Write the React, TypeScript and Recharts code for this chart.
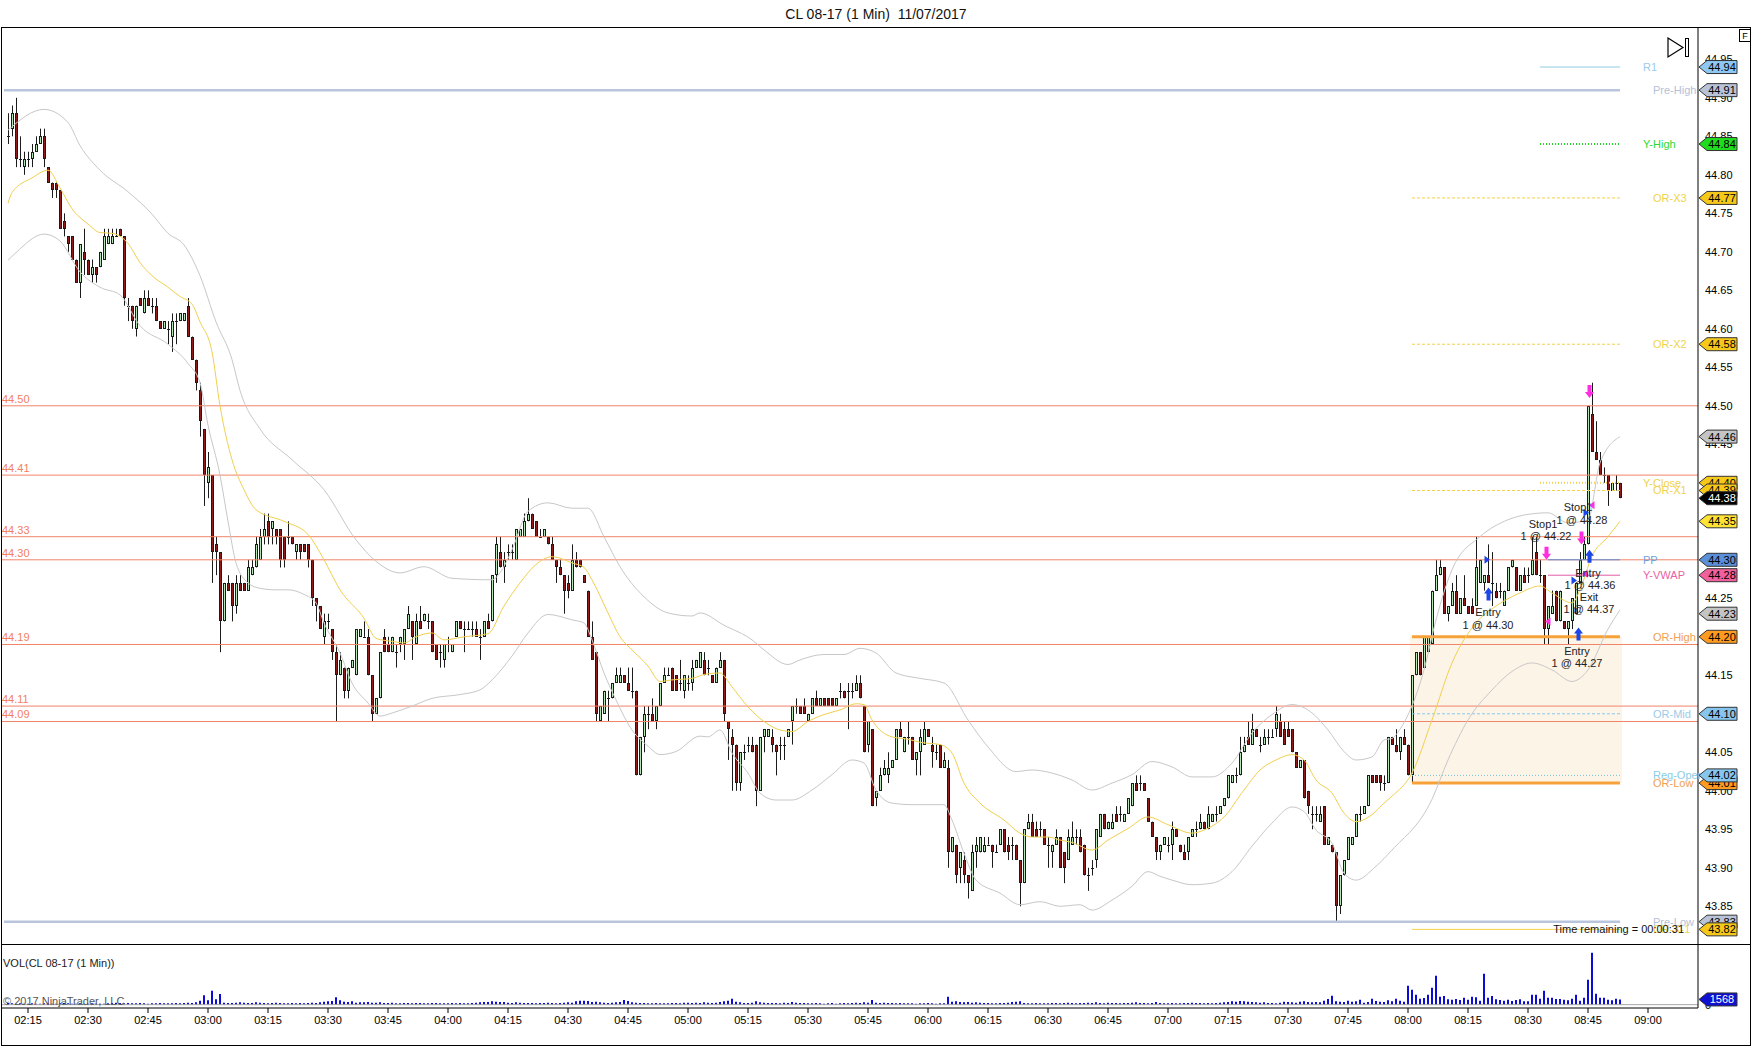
import React from "react";
import {
  ComposedChart, Bar, Line, XAxis, YAxis,
  ReferenceLine, ReferenceArea, ReferenceDot,
} from "recharts";

const FONT = '"Liberation Sans", Arial, Helvetica, sans-serif';

// category slots of the time axis (one per minute) and the first traded bar
const SLOT_FROM = "02:09";
const SLOT_TO = "09:12";
const FIRST_BAR = "02:10";

// CL 08-17, 1 min bars 02:10 .. 08:53
const OPEN = [
  44.85,44.86,44.88,44.82,44.81,44.82,44.82,44.83,44.84,44.85,
  44.81,44.79,44.79,44.78,44.74,44.72,44.72,44.69,44.66,44.70,
  44.69,44.67,44.68,44.68,44.69,44.71,44.71,44.72,44.73,44.72,
  44.63,44.63,44.60,44.64,44.62,44.64,44.63,44.63,44.61,44.60,
  44.60,44.59,44.61,44.61,44.61,44.63,44.59,44.56,44.52,44.47,
  44.40,44.41,44.32,44.31,44.22,44.27,44.27,44.24,44.27,44.27,
  44.26,44.28,44.29,44.30,44.33,44.35,44.34,44.34,44.34,44.33,
  44.33,44.33,44.31,44.32,44.32,44.32,44.30,44.25,44.24,44.20,
  44.22,44.21,44.18,44.15,44.16,44.13,44.16,44.15,44.20,44.20,
  44.20,44.15,44.10,44.12,44.20,44.19,44.18,44.18,44.19,44.19,
  44.21,44.22,44.19,44.22,44.22,44.22,44.22,44.19,44.18,44.17,
  44.19,44.18,44.20,44.22,44.21,44.21,44.21,44.21,44.20,44.20,
  44.22,44.22,44.28,44.31,44.29,44.31,44.31,44.30,44.33,44.33,
  44.35,44.36,44.35,44.33,44.33,44.33,44.32,44.30,44.29,44.28,
  44.27,44.26,44.30,44.30,44.28,44.26,44.20,44.18,44.09,44.10,
  44.12,44.12,44.14,44.14,44.15,44.14,44.13,44.13,44.02,44.07,
  44.10,44.10,44.09,44.11,44.14,44.15,44.16,44.15,44.14,44.13,
  44.14,44.14,44.16,44.16,44.17,44.16,44.15,44.14,44.16,44.17,
  44.09,44.07,44.06,44.01,44.05,44.06,44.06,44.06,44.00,44.07,
  44.07,44.07,44.06,44.06,44.06,44.07,44.09,44.11,44.11,44.11,
  44.09,44.10,44.12,44.11,44.12,44.12,44.12,44.11,44.13,44.13,
  44.13,44.13,44.13,44.14,44.11,44.06,44.08,43.99,44.00,44.02,
  44.02,44.03,44.04,44.08,44.05,44.07,44.07,44.04,44.05,44.06,
  44.08,44.06,44.05,44.06,44.03,44.03,43.92,43.93,43.90,43.91,
  43.89,43.87,43.92,43.92,43.92,43.93,43.93,43.92,43.93,43.95,
  43.93,43.93,43.93,43.91,43.88,43.95,43.96,43.95,43.95,43.95,
  43.93,43.92,43.93,43.94,43.92,43.91,43.93,43.94,43.94,43.93,
  43.89,43.90,43.91,43.94,43.97,43.95,43.95,43.97,43.97,43.96,
  43.97,43.98,44.01,44.01,44.01,43.99,43.96,43.94,43.92,43.93,
  43.93,43.93,43.95,43.93,43.92,43.92,43.94,43.95,43.95,43.96,
  43.95,43.96,43.97,43.97,43.98,43.99,44.01,44.02,44.02,44.05,
  44.07,44.06,44.08,44.06,44.06,44.07,44.07,44.08,44.09,44.08,
  44.08,44.08,44.05,44.03,44.04,44.00,43.97,43.97,43.96,43.98,
  43.93,43.93,43.92,43.85,43.89,43.91,43.93,43.94,43.97,43.97,
  43.98,44.02,44.02,44.02,44.01,44.01,44.07,44.06,44.05,44.07,
  44.06,44.02,44.15,44.18,44.16,44.18,44.19,44.26,44.28,44.29,
  44.23,44.24,44.26,44.23,44.25,44.24,44.24,44.24,44.27,44.27,
  44.28,44.27,44.26,44.26,44.24,44.26,44.29,44.29,44.26,44.28,
  44.28,44.28,44.31,44.28,44.28,44.21,44.23,44.26,44.22,44.22,
  44.21,44.22,44.23,44.27,44.30,44.32,44.49,44.44,44.43,44.41,
  44.41,44.39,44.40,44.40,
];
const HIGH = [
  44.88,44.89,44.90,44.85,44.83,44.83,44.84,44.85,44.86,44.86,
  44.81,44.79,44.79,44.78,44.75,44.72,44.72,44.69,44.71,44.73,
  44.69,44.69,44.68,44.70,44.73,44.73,44.73,44.73,44.73,44.72,
  44.64,44.63,44.63,44.64,44.65,44.65,44.64,44.64,44.61,44.61,
  44.61,44.62,44.62,44.62,44.62,44.64,44.59,44.56,44.53,44.47,
  44.44,44.41,44.33,44.31,44.27,44.28,44.27,44.28,44.28,44.27,
  44.30,44.30,44.33,44.34,44.36,44.36,44.35,44.34,44.34,44.33,
  44.35,44.33,44.32,44.32,44.32,44.32,44.30,44.25,44.24,44.23,
  44.23,44.21,44.19,44.18,44.16,44.16,44.17,44.21,44.21,44.22,
  44.21,44.15,44.12,44.18,44.21,44.20,44.20,44.19,44.20,44.21,
  44.24,44.22,44.23,44.24,44.23,44.23,44.22,44.19,44.19,44.19,
  44.20,44.19,44.22,44.22,44.22,44.22,44.22,44.22,44.21,44.22,
  44.23,44.28,44.33,44.33,44.31,44.32,44.32,44.34,44.34,44.36,
  44.38,44.36,44.35,44.34,44.34,44.33,44.33,44.30,44.30,44.28,
  44.28,44.32,44.31,44.30,44.28,44.26,44.22,44.18,44.11,44.13,
  44.13,44.14,44.16,44.16,44.15,44.16,44.16,44.13,44.07,44.11,
  44.11,44.12,44.11,44.14,44.16,44.16,44.16,44.15,44.17,44.15,
  44.15,44.17,44.17,44.18,44.18,44.17,44.15,44.16,44.18,44.17,
  44.09,44.08,44.06,44.05,44.06,44.07,44.07,44.06,44.07,44.08,
  44.08,44.08,44.06,44.07,44.07,44.08,44.11,44.12,44.11,44.12,
  44.10,44.12,44.13,44.12,44.12,44.12,44.12,44.12,44.14,44.13,
  44.14,44.14,44.15,44.15,44.11,44.09,44.08,44.00,44.03,44.04,
  44.05,44.04,44.08,44.09,44.07,44.09,44.07,44.05,44.08,44.09,
  44.08,44.07,44.06,44.06,44.05,44.04,43.94,43.93,43.92,43.92,
  43.89,43.93,43.94,43.94,43.94,43.94,43.93,43.93,43.95,43.95,
  43.94,43.94,43.93,43.91,43.95,43.97,43.97,43.96,43.96,43.95,
  43.94,43.93,43.95,43.94,43.92,43.95,43.96,43.95,43.95,43.93,
  43.90,43.91,43.95,43.97,43.97,43.96,43.97,43.98,43.98,43.97,
  43.99,44.01,44.02,44.02,44.01,43.99,43.96,43.94,43.93,43.94,
  43.94,43.96,43.95,43.93,43.93,43.94,43.95,43.96,43.97,43.96,
  43.98,43.97,43.98,43.98,43.99,44.02,44.02,44.03,44.07,44.07,
  44.09,44.10,44.08,44.07,44.08,44.08,44.08,44.11,44.10,44.09,
  44.09,44.08,44.05,44.04,44.04,44.00,43.98,43.98,43.98,43.98,
  43.94,43.93,43.92,43.89,43.91,43.94,43.94,43.97,43.98,43.98,
  44.02,44.02,44.02,44.02,44.02,44.07,44.07,44.08,44.07,44.08,
  44.06,44.15,44.18,44.18,44.20,44.20,44.26,44.30,44.30,44.29,
  44.24,44.27,44.28,44.25,44.28,44.24,44.25,44.33,44.30,44.28,
  44.32,44.31,44.27,44.27,44.26,44.29,44.30,44.29,44.28,44.29,
  44.29,44.33,44.33,44.30,44.28,44.24,44.26,44.26,44.26,44.22,
  44.22,44.25,44.27,44.31,44.33,44.50,44.53,44.48,44.44,44.42,
  44.41,44.40,44.41,44.40,
];
const LOW = [
  44.84,44.85,44.81,44.81,44.80,44.81,44.81,44.83,44.84,44.81,
  44.79,44.77,44.77,44.73,44.72,44.70,44.69,44.66,44.64,44.67,
  44.67,44.66,44.66,44.68,44.69,44.71,44.71,44.72,44.72,44.63,
  44.61,44.60,44.59,44.63,44.62,44.63,44.62,44.61,44.60,44.60,
  44.58,44.57,44.58,44.61,44.61,44.59,44.56,44.52,44.46,44.37,
  44.38,44.27,44.28,44.18,44.22,44.26,44.22,44.23,44.26,44.26,
  44.26,44.28,44.29,44.30,44.32,44.32,44.32,44.32,44.29,44.29,
  44.32,44.32,44.30,44.30,44.31,44.29,44.24,44.22,44.21,44.19,
  44.21,44.17,44.09,44.15,44.12,44.12,44.16,44.15,44.20,44.20,
  44.15,44.09,44.10,44.12,44.18,44.18,44.18,44.16,44.18,44.17,
  44.21,44.17,44.19,44.21,44.22,44.21,44.18,44.17,44.16,44.16,
  44.18,44.18,44.20,44.21,44.18,44.21,44.20,44.20,44.17,44.20,
  44.21,44.22,44.27,44.29,44.27,44.30,44.30,44.30,44.33,44.33,
  44.35,44.34,44.33,44.33,44.33,44.32,44.30,44.27,44.28,44.23,
  44.25,44.26,44.29,44.29,44.27,44.20,44.17,44.09,44.09,44.10,
  44.09,44.12,44.14,44.14,44.14,44.13,44.12,44.02,44.02,44.05,
  44.08,44.09,44.08,44.11,44.14,44.15,44.13,44.13,44.13,44.12,
  44.13,44.13,44.16,44.16,44.15,44.15,44.14,44.14,44.16,44.09,
  44.04,44.00,44.00,44.00,44.04,44.05,44.05,43.98,44.00,44.05,
  44.07,44.05,44.02,44.04,44.04,44.07,44.06,44.10,44.10,44.10,
  44.09,44.10,44.11,44.11,44.11,44.11,44.11,44.11,44.12,44.12,
  44.08,44.12,44.13,44.12,44.05,44.05,43.98,43.98,44.00,44.02,
  44.01,44.03,44.04,44.07,44.05,44.06,44.04,44.02,44.02,44.06,
  44.07,44.03,44.04,44.03,44.03,43.90,43.92,43.88,43.88,43.88,
  43.86,43.87,43.90,43.92,43.92,43.93,43.90,43.92,43.93,43.92,
  43.91,43.91,43.91,43.85,43.88,43.95,43.94,43.94,43.94,43.93,
  43.90,43.90,43.93,43.90,43.88,43.91,43.93,43.93,43.92,43.89,
  43.87,43.89,43.90,43.94,43.95,43.95,43.95,43.96,43.96,43.96,
  43.97,43.98,44.00,44.00,44.00,43.96,43.94,43.91,43.91,43.93,
  43.92,43.91,43.94,43.92,43.91,43.91,43.94,43.94,43.95,43.95,
  43.95,43.96,43.96,43.97,43.98,43.99,44.01,44.01,44.02,44.05,
  44.06,44.06,44.07,44.05,44.06,44.06,44.07,44.07,44.07,44.06,
  44.07,44.05,44.03,44.03,43.99,43.97,43.95,43.96,43.96,43.93,
  43.93,43.92,43.83,43.84,43.89,43.91,43.93,43.94,43.96,43.97,
  43.98,44.01,44.01,44.00,44.00,44.01,44.06,44.05,44.04,44.06,
  44.02,44.01,44.15,44.15,44.16,44.18,44.19,44.26,44.28,44.23,
  44.22,44.24,44.23,44.23,44.24,44.23,44.23,44.24,44.27,44.26,
  44.27,44.24,44.25,44.25,44.24,44.26,44.29,44.26,44.26,44.27,
  44.27,44.28,44.28,44.27,44.19,44.19,44.23,44.22,44.22,44.21,
  44.19,44.21,44.23,44.27,44.30,44.32,44.44,44.43,44.41,44.40,
  44.37,44.39,44.39,44.38,
];
const CLOSE = [
  44.85,44.88,44.82,44.82,44.82,44.82,44.83,44.84,44.85,44.82,
  44.79,44.78,44.78,44.73,44.73,44.71,44.69,44.66,44.71,44.69,
  44.67,44.68,44.67,44.70,44.72,44.72,44.72,44.72,44.72,44.64,
  44.63,44.61,44.63,44.63,44.64,44.63,44.63,44.61,44.60,44.61,
  44.60,44.61,44.61,44.62,44.62,44.59,44.56,44.53,44.48,44.41,
  44.42,44.31,44.31,44.22,44.27,44.26,44.24,44.27,44.26,44.26,
  44.29,44.29,44.32,44.33,44.34,44.33,44.35,44.33,44.30,44.30,
  44.33,44.32,44.32,44.31,44.31,44.30,44.25,44.24,44.21,44.22,
  44.22,44.18,44.15,44.17,44.13,44.16,44.17,44.21,44.21,44.20,
  44.15,44.10,44.12,44.18,44.18,44.18,44.20,44.18,44.20,44.21,
  44.23,44.20,44.22,44.21,44.23,44.22,44.18,44.17,44.18,44.19,
  44.19,44.19,44.22,44.21,44.21,44.21,44.21,44.20,44.20,44.22,
  44.21,44.28,44.32,44.29,44.30,44.31,44.31,44.34,44.34,44.35,
  44.36,44.34,44.33,44.33,44.34,44.32,44.30,44.29,44.28,44.26,
  44.26,44.30,44.29,44.29,44.27,44.20,44.17,44.10,44.11,44.13,
  44.12,44.14,44.15,44.15,44.14,44.13,44.13,44.02,44.07,44.10,
  44.10,44.09,44.11,44.14,44.15,44.15,44.13,44.13,44.14,44.15,
  44.14,44.16,44.17,44.18,44.15,44.16,44.14,44.16,44.17,44.10,
  44.08,44.06,44.01,44.05,44.05,44.06,44.05,44.00,44.07,44.08,
  44.08,44.06,44.05,44.06,44.06,44.08,44.11,44.11,44.10,44.10,
  44.10,44.12,44.11,44.12,44.11,44.11,44.11,44.12,44.13,44.12,
  44.13,44.13,44.14,44.12,44.05,44.09,43.98,44.00,44.02,44.03,
  44.03,44.04,44.08,44.07,44.07,44.07,44.04,44.05,44.07,44.08,
  44.07,44.05,44.05,44.03,44.04,43.92,43.94,43.89,43.92,43.89,
  43.88,43.92,43.93,43.94,43.93,43.93,43.92,43.92,43.95,43.92,
  43.92,43.93,43.91,43.88,43.95,43.96,43.94,43.94,43.95,43.93,
  43.93,43.93,43.94,43.90,43.90,43.94,43.94,43.94,43.92,43.89,
  43.89,43.90,43.95,43.97,43.95,43.96,43.96,43.96,43.97,43.97,
  43.99,44.01,44.00,44.01,44.00,43.96,43.94,43.92,43.93,43.94,
  43.93,43.95,43.94,43.92,43.91,43.94,43.95,43.95,43.96,43.95,
  43.97,43.97,43.97,43.98,43.99,44.02,44.02,44.02,44.05,44.06,
  44.06,44.08,44.07,44.06,44.07,44.07,44.07,44.10,44.07,44.06,
  44.07,44.05,44.03,44.04,43.99,43.98,43.97,43.97,43.97,43.93,
  43.94,43.92,43.85,43.89,43.91,43.94,43.94,43.97,43.97,43.98,
  44.02,44.01,44.01,44.01,44.01,44.07,44.06,44.05,44.07,44.06,
  44.02,44.15,44.18,44.15,44.20,44.20,44.26,44.28,44.29,44.23,
  44.24,44.26,44.23,44.25,44.24,44.23,44.23,44.29,44.30,44.28,
  44.27,44.27,44.25,44.26,44.26,44.29,44.30,44.26,44.28,44.27,
  44.28,44.30,44.28,44.28,44.21,44.24,44.24,44.22,44.26,44.21,
  44.22,44.25,44.27,44.30,44.32,44.50,44.44,44.43,44.41,44.41,
  44.39,44.40,44.40,44.38,
];
const VOLUME = [
  500,400,300,400,300,300,400,300,300,400,
  400,300,300,400,500,400,300,300,400,300,
  300,400,300,300,300,400,500,600,500,400,
  500,400,400,500,400,300,400,400,500,400,
  400,400,500,400,500,600,500,700,1200,2800,
  1300,4200,1600,3200,600,500,500,600,700,600,
  500,500,700,600,500,400,500,600,500,400,
  400,500,400,500,400,500,600,500,700,900,
  1000,1100,2200,1300,900,800,1000,600,700,700,
  800,600,600,700,500,500,600,400,400,500,
  500,400,500,500,400,400,500,500,400,400,
  400,500,400,500,400,400,500,600,700,800,
  800,1000,900,800,800,600,500,700,600,500,
  500,500,400,500,500,600,500,400,500,600,
  700,600,1000,1200,1200,1100,800,900,700,600,
  500,600,700,800,1400,1100,700,600,500,500,
  400,400,500,400,400,400,500,500,400,600,
  600,500,600,500,700,600,500,600,800,1000,
  1200,1800,900,700,500,500,600,1000,700,600,
  500,500,500,400,600,500,800,600,500,500,
  400,400,500,400,300,400,500,300,400,500,
  400,500,600,500,700,600,1400,600,500,600,
  500,500,400,500,400,400,400,300,400,400,
  500,400,300,400,400,2400,900,1000,800,700,
  800,600,700,600,500,500,400,400,500,500,
  600,800,900,1000,500,400,400,500,400,400,
  400,500,500,400,500,600,500,400,500,500,
  600,500,700,500,400,600,500,500,400,500,
  500,600,700,500,500,400,500,800,500,400,
  400,500,400,400,500,500,600,500,500,400,
  500,400,500,600,700,800,1000,900,1100,1000,
  900,800,700,600,700,500,500,400,600,900,
  800,700,600,900,1000,800,700,800,700,1200,
  1700,2700,1000,900,800,1200,900,1000,1500,600,
  800,1800,1100,900,800,1300,1000,1800,1200,900,
  5700,4500,3000,1800,2000,3000,5100,8700,2400,2600,
  1600,1500,1700,1400,2100,1500,2400,2200,1200,9300,
  2100,2600,1600,1400,1200,1500,1100,1400,1600,1000,
  1000,3000,3000,1800,4200,2100,2100,1700,1700,1500,
  1300,1800,3000,1200,2100,7500,15600,3300,2100,2100,
  1500,1300,1800,1568,
];

// indicator readings (yellow average, grey envelope), sampled off the chart
const MA: [string, number][] = [
  ["02:10",44.763],["02:11",44.777],["02:16",44.796],["02:20",44.806],["02:23",44.783],["02:26",44.756],
  ["02:30",44.736],["02:33",44.725],["02:36",44.724],["02:40",44.711],["02:43",44.686],["02:46",44.669],
  ["02:50",44.654],["02:53",44.642],["02:56",44.632],["02:58",44.609],["03:01",44.570],["03:03",44.500],
  ["03:06",44.430],["03:09",44.391],["03:12",44.365],["03:19",44.350],["03:25",44.333],["03:29",44.300],
  ["03:33",44.261],["03:39",44.224],["03:42",44.198],["03:46",44.194],["03:49",44.192],["03:52",44.200],
  ["03:56",44.205],["03:59",44.196],["04:04",44.200],["04:10",44.204],["04:14",44.240],["04:18",44.270],
  ["04:22",44.294],["04:26",44.304],["04:31",44.296],["04:34",44.290],["04:36",44.274],["04:40",44.231],
  ["04:43",44.200],["04:46",44.183],["04:50",44.162],["04:53",44.142],["04:56",44.144],["05:01",44.146],
  ["05:04",44.151],["05:08",44.153],["05:11",44.135],["05:15",44.109],["05:19",44.090],["05:23",44.079],
  ["05:26",44.077],["05:30",44.090],["05:34",44.099],["05:38",44.105],["05:42",44.113],["05:44",44.112],
  ["05:46",44.092],["05:51",44.070],["05:55",44.067],["05:58",44.063],["06:03",44.060],["06:06",44.049],
  ["06:09",44.010],["06:13",43.984],["06:19",43.962],["06:23",43.945],["06:26",43.940],["06:30",43.940],
  ["06:33",43.936],["06:36",43.933],["06:41",43.923],["06:45",43.936],["06:50",43.951],["06:55",43.966],
  ["07:00",43.956],["07:06",43.945],["07:09",43.949],["07:14",43.966],["07:19",44.001],["07:23",44.027],
  ["07:27",44.040],["07:31",44.047],["07:34",44.040],["07:37",44.014],["07:41",43.997],["07:44",43.971],
  ["07:47",43.960],["07:51",43.969],["07:54",43.984],["07:56",43.993],["08:01",44.023],["08:06",44.092],
  ["08:11",44.166],["08:17",44.218],["08:22",44.240],["08:28",44.257],["08:33",44.266],["08:36",44.257],
  ["08:41",44.244],["08:43",44.261],["08:46",44.305],["08:50",44.330],["08:53",44.350],
];
const UPPER: [string, number][] = [
  ["02:10",44.858],["02:19",44.885],["02:25",44.868],["02:28",44.838],["02:33",44.806],["02:40",44.778],
  ["02:46",44.749],["02:50",44.724],["02:54",44.709],["02:58",44.669],["03:02",44.609],["03:06",44.560],
  ["03:08",44.520],["03:13",44.470],["03:21",44.430],["03:29",44.391],["03:37",44.326],["03:42",44.298],
  ["03:48",44.283],["03:54",44.291],["04:01",44.276],["04:11",44.274],["04:13",44.283],["04:16",44.313],
  ["04:20",44.363],["04:25",44.374],["04:31",44.367],["04:35",44.367],["04:39",44.330],["04:43",44.291],
  ["04:49",44.252],["04:55",44.231],["05:01",44.227],["05:03",44.231],["05:09",44.215],["05:16",44.196],
  ["05:19",44.183],["05:25",44.164],["05:28",44.170],["05:34",44.177],["05:39",44.177],["05:43",44.185],
  ["05:47",44.179],["05:52",44.153],["05:58",44.146],["06:04",44.140],["06:10",44.092],["06:15",44.057],
  ["06:22",44.025],["06:26",44.027],["06:31",44.023],["06:36",44.014],["06:41",44.001],["06:46",44.010],
  ["06:51",44.021],["06:56",44.038],["07:01",44.031],["07:06",44.018],["07:11",44.018],["07:16",44.036],
  ["07:21",44.075],["07:26",44.099],["07:31",44.112],["07:35",44.105],["07:40",44.079],["07:44",44.051],
  ["07:47",44.040],["07:51",44.044],["07:54",44.066],["07:56",44.068],["07:58",44.080],["08:04",44.157],
  ["08:07",44.222],["08:11",44.287],["08:18",44.330],["08:25",44.352],["08:30",44.359],["08:35",44.361],
  ["08:40",44.348],["08:45",44.352],["08:48",44.426],["08:53",44.460],
];
const LOWER: [string, number][] = [
  ["02:10",44.689],["02:12",44.699],["02:19",44.723],["02:23",44.714],["02:28",44.674],["02:33",44.654],
  ["02:38",44.644],["02:43",44.604],["02:50",44.580],["02:55",44.555],["02:58",44.530],["03:00",44.475],
  ["03:03",44.410],["03:05",44.350],["03:07",44.296],["03:10",44.270],["03:13",44.263],["03:17",44.261],
  ["03:20",44.261],["03:24",44.255],["03:27",44.244],["03:29",44.218],["03:33",44.179],["03:36",44.140],
  ["03:40",44.114],["03:43",44.097],["03:46",44.101],["03:51",44.110],["03:56",44.120],["04:03",44.125],
  ["04:08",44.131],["04:11",44.144],["04:16",44.175],["04:20",44.205],["04:25",44.229],["04:31",44.222],
  ["04:34",44.218],["04:36",44.196],["04:39",44.153],["04:42",44.118],["04:46",44.079],["04:50",44.058],
  ["04:53",44.047],["04:57",44.051],["05:03",44.071],["05:05",44.070],["05:08",44.079],["05:11",44.049],
  ["05:15",44.023],["05:18",43.997],["05:22",43.988],["05:26",43.988],["05:31",44.001],["05:36",44.021],
  ["05:41",44.040],["05:44",44.036],["05:47",44.001],["05:51",43.984],["05:56",43.982],["06:04",43.982],
  ["06:06",43.962],["06:09",43.919],["06:12",43.884],["06:18",43.867],["06:23",43.852],["06:28",43.856],
  ["06:33",43.850],["06:38",43.852],["06:41",43.845],["06:46",43.858],["06:51",43.876],["06:55",43.895],
  ["06:58",43.889],["07:01",43.884],["07:06",43.878],["07:11",43.880],["07:16",43.895],["07:21",43.928],
  ["07:26",43.958],["07:31",43.979],["07:34",43.973],["07:37",43.949],["07:41",43.932],["07:44",43.893],
  ["07:47",43.884],["07:52",43.902],["07:56",43.923],["08:06",43.989],["08:10",44.040],["08:15",44.092],
  ["08:21",44.131],["08:26",44.155],["08:31",44.166],["08:36",44.157],["08:41",44.142],["08:45",44.157],
  ["08:50",44.210],["08:53",44.235],
];

// drawn levels
const RED_LEVELS = [44.5, 44.41, 44.33, 44.3, 44.19, 44.11, 44.09];
const Y_TICKS = [43.85,43.9,43.95,44.0,44.05,44.1,44.15,44.2,44.25,44.3,44.35,44.4,44.45,44.5,44.55,44.6,44.65,44.7,44.75,44.8,44.85,44.9,44.95];
const TIME_TICKS = ["02:15","02:30","02:45","03:00","03:15","03:30","03:45","04:00","04:15","04:30","04:45","05:00","05:15","05:30","05:45","06:00","06:15","06:30","06:45","07:00","07:15","07:30","07:45","08:00","08:15","08:30","08:45","09:00"];

// [from, to, price, colour, width, dash]
const SEGMENTS: [string, string, number, string, number, string][] = [
  ["08:33","08:53",44.94,"#8fcbe3",1,""],
  ["02:09","08:53",44.91,"#b9c4dd",2.5,""],
  ["08:33","08:53",44.84,"#22d322",2,"1 2"],
  ["08:01","08:53",44.77,"#f3d14a",1,"3 2"],
  ["08:01","08:53",44.58,"#f3d14a",1,"3 2"],
  ["08:33","08:53",44.40,"#f3d14a",2,"1 2"],
  ["08:01","08:53",44.39,"#f3d14a",1,"3 2"],
  ["08:35","08:53",44.30,"#5b8bd6",1,""],
  ["08:35","08:53",44.28,"#e25aa6",1,""],
  ["08:01","08:53",44.20,"#f7a239",3,""],
  ["08:01","08:53",44.10,"#8cc8e8",1,"3 2"],
  ["08:01","08:53",44.02,"#6fc6cf",1,"1 2"],
  ["08:01","08:53",44.01,"#f7a239",3,""],
  ["02:09","08:53",43.83,"#b9c4dd",2.5,""],
  ["08:01","08:53",43.82,"#f3d14a",1,""],
];
// [text, price, colour, indent]
const LEVEL_NAMES: [string, number, string, number][] = [
  ["R1",44.94,"#9ccbe8",23],["Pre-High",44.91,"#b4bfd8",33],["Y-High",44.84,"#2fd82f",23],
  ["OR-X3",44.77,"#f0d24a",33],["OR-X2",44.58,"#f0d24a",33],["Y-Close",44.40,"#f0d24a",23],
  ["OR-X1",44.39,"#f0d24a",33],["PP",44.30,"#6f9fe0",23],["Y-VWAP",44.28,"#e85fa8",23],
  ["OR-High",44.20,"#f0a050",33],["OR-Mid",44.10,"#9ccbe8",33],["Reg-Open",44.02,"#8ccbe8",33],
  ["OR-Low",44.01,"#f0a050",33],["Pre-Low",43.83,"#b4bfd8",33],["OR-X-1",43.82,"#f0d24a",33],
];
// [price, fill, text colour]
const TAGS: [number, string, string][] = [
  [44.94,"#8ec7f2","#000"],[44.91,"#b9c3d8","#000"],[44.84,"#1fdc1f","#000"],[44.77,"#f6c819","#000"],
  [44.58,"#f6c819","#000"],[44.46,"#c4c4c4","#000"],[44.40,"#f6c819","#000"],[44.39,"#f6c819","#000"],
  [44.38,"#000000","#fff"],[44.35,"#ffe433","#000"],[44.30,"#5b8fd8","#000"],[44.28,"#f0609c","#000"],
  [44.23,"#c4c4c4","#000"],[44.20,"#ff9b1f","#000"],[44.10,"#86c6ee","#000"],[44.01,"#ff9b1f","#000"],
  [44.02,"#86c6ee","#000"],[43.83,"#b9c3d8","#000"],[43.82,"#f6c819","#000"],
];

// trade markers: [time, price, dx]
const BUY_ARROWS: [string, number, number][] = [["08:20",44.264,0],["08:42",44.212,2],["08:45",44.313,1]];
const SELL_ARROWS: [string, number, number][] = [["08:34",44.30,2],["08:43",44.32,1],["08:45",44.51,1]];
const ENTRY_FILLS: [string, number, number][] = [["08:20",44.30,-1],["08:41",44.273,2],["08:44",44.361,2]];
const EXIT_FILLS: [string, number, number][] = [["08:35",44.22,0],["08:44",44.282,1],["08:46",44.371,0]];
const NOTES: [string, number, number, string][] = [
  ["08:20",44.2325,0,"Entry"],["08:20",44.2156,0,"1 @ 44.30"],
  ["08:34",44.347,-1,"Stop1"],["08:34",44.331,2,"1 @ 44.22"],
  ["08:42",44.368,2,"Stop1"],["08:43",44.352,2,"1 @ 44.28"],
  ["08:45",44.283,0,"Entry"],["08:45",44.2675,2,"1 @ 44.36"],
  ["08:45",44.251,1,"Exit"],["08:45",44.2355,1,"1 @ 44.37"],
  ["08:42",44.181,1,"Entry"],["08:42",44.166,1,"1 @ 44.27"],
];

type Row = { time: string; o?: number; h?: number; l?: number; c?: number; v?: number; ma?: number; up?: number; lo?: number };

const toMin = (s: string) => { const [h, m] = s.split(":").map(Number); return h * 60 + m; };
const toTime = (m: number) => `${String(Math.floor(m / 60)).padStart(2, "0")}:${String(m % 60).padStart(2, "0")}`;

const rows: Row[] = [];
for (let m = toMin(SLOT_FROM); m <= toMin(SLOT_TO); m++) {
  const r: Row = { time: toTime(m) };
  const i = m - toMin(FIRST_BAR);
  if (i >= 0 && i < CLOSE.length) {
    r.o = OPEN[i]; r.h = HIGH[i]; r.l = LOW[i]; r.c = CLOSE[i]; r.v = VOLUME[i];
  }
  rows.push(r);
}
const byTime = new Map(rows.map((r) => [r.time, r]));
MA.forEach(([t, v]) => { byTime.get(t)!.ma = v; });
UPPER.forEach(([t, v]) => { byTime.get(t)!.up = v; });
LOWER.forEach(([t, v]) => { byTime.get(t)!.lo = v; });

const INK = "#1b1b1b";
const AXIS_X = 1698;

function Candle(props: any) {
  const { x, y, width, height, payload } = props;
  if (!payload || payload.h == null || height == null) return null;
  const { o, h, l, c } = payload;
  const top = Math.min(y, y + height);
  const span = Math.abs(height);
  const py = (p: number) => top + ((h - p) / (h - l)) * span;
  const cx = Math.round(x + width / 2);
  const yo = Math.round(py(o));
  const yc = Math.round(py(c));
  const wick = <line x1={cx + 0.5} x2={cx + 0.5} y1={top} y2={top + span} stroke={INK} strokeWidth={1} />;
  if (yo === yc) {
    return (
      <g>{wick}<line x1={cx - 1} x2={cx + 2} y1={yo + 0.5} y2={yo + 0.5} stroke={INK} strokeWidth={1} /></g>
    );
  }
  const y0 = Math.min(yo, yc);
  const y1 = Math.max(yo, yc);
  return (
    <g>
      {wick}
      <rect x={cx - 0.5} y={y0 + 0.5} width={2} height={Math.max(1, y1 - y0 - 1)}
        fill={c > o ? "#b9e6b9" : "#8e1a1a"} stroke={INK} strokeWidth={1} />
    </g>
  );
}

const txt = { fontFamily: FONT, fontSize: 11 };

function tagShape(label: string, fill: string, color: string) {
  return (p: any) => {
    const x = AXIS_X + 1;
    const y = p.cy;
    return (
      <g>
        <polygon points={`${x},${y} ${x + 8},${y - 6.5} ${x + 38},${y - 6.5} ${x + 38},${y + 6.5} ${x + 8},${y + 6.5}`}
          fill={fill} stroke="#333" strokeWidth={1} />
        <text x={x + 23} y={y} dy="0.36em" textAnchor="middle" fill={color} {...txt}>{label}</text>
      </g>
    );
  };
}

// axis label drawn beneath the tags
function tickShape(label: string) {
  return (p: any) => (
    <text x={AXIS_X + 7} y={p.cy} dy="0.36em" fill="#000" {...txt}>{label}</text>
  );
}

export default function App() {
  return (
    <div style={{ position: "absolute", left: 0, top: 0, width: 1752, height: 1054, background: "#fff", fontFamily: FONT }}>
      {/* price panel */}
      <div style={{ position: "absolute", left: 0, top: 0 }}>
        <ComposedChart width={1752} height={944} data={rows} margin={{ top: 27, right: 0, bottom: 0, left: 2 }}
          barCategoryGap={0} barGap={0}>
          <XAxis dataKey="time" hide />
          <YAxis orientation="right" width={54} domain={[43.801, 44.992]} allowDataOverflow ticks={Y_TICKS}
            tick={false} tickSize={5} axisLine={{ stroke: "#000" }} tickLine={{ stroke: "#000" }} />
          <ReferenceArea x1="08:01" x2="08:53" y1={44.01} y2={44.2} fill="#fdf4e8" fillOpacity={1} stroke="none" />
          {RED_LEVELS.map((p) => (
            <ReferenceLine key={`r${p}`} y={p} stroke="#f08469" strokeWidth={1} />
          ))}
          {SEGMENTS.map(([a, b, p, col, w, dash]) => (
            <ReferenceLine key={`s${p}${a}`} segment={[{ x: a, y: p }, { x: b, y: p }]} stroke={col}
              strokeWidth={w} strokeDasharray={dash || undefined} />
          ))}
          <Line dataKey="up" stroke="#c8c8c8" strokeWidth={1} dot={false} activeDot={false} connectNulls type="monotone" isAnimationActive={false} />
          <Line dataKey="lo" stroke="#c8c8c8" strokeWidth={1} dot={false} activeDot={false} connectNulls type="monotone" isAnimationActive={false} />
          <Line dataKey="ma" stroke="#f0d050" strokeWidth={1} dot={false} activeDot={false} connectNulls type="monotone" isAnimationActive={false} />
          <Bar dataKey={(d: Row) => (d.h == null ? undefined : [d.l, d.h])} barSize={4} isAnimationActive={false}
            shape={(p: any) => <Candle {...p} />} />
          {RED_LEVELS.map((p) => (
            <ReferenceDot key={`rl${p}`} x="02:09" y={p} r={1} ifOverflow="visible"
              shape={(d: any) => (
                <text x={2} y={d.cy - 3} fill="#f2805f" {...txt}>{p.toFixed(2)}</text>
              )} />
          ))}
          {LEVEL_NAMES.map(([name, p, col, dx]) => (
            <ReferenceDot key={`n${name}`} x="08:53" y={p} r={1} ifOverflow="visible"
              shape={(d: any) => (
                <text x={d.cx + dx} y={d.cy} dy="0.36em" fill={col} {...txt}>{name}</text>
              )} />
          ))}
          {BUY_ARROWS.map(([t, p, dx]) => (
            <ReferenceDot key={`ba${t}${p}`} x={t} y={p} r={1} ifOverflow="visible"
              shape={(d: any) => {
                const x = d.cx + dx + 0.5, y = d.cy;
                return <polygon points={`${x},${y} ${x + 4.5},${y + 6} ${x + 2},${y + 6} ${x + 2},${y + 13} ${x - 2},${y + 13} ${x - 2},${y + 6} ${x - 4.5},${y + 6}`} fill="#1c46e8" />;
              }} />
          ))}
          {SELL_ARROWS.map(([t, p, dx]) => (
            <ReferenceDot key={`sa${t}${p}`} x={t} y={p} r={1} ifOverflow="visible"
              shape={(d: any) => {
                const x = d.cx + dx + 0.5, y = d.cy;
                return <polygon points={`${x},${y} ${x + 4.5},${y - 6} ${x + 2},${y - 6} ${x + 2},${y - 13} ${x - 2},${y - 13} ${x - 2},${y - 6} ${x - 4.5},${y - 6}`} fill="#ff2fe0" />;
              }} />
          ))}
          {ENTRY_FILLS.map(([t, p, dx]) => (
            <ReferenceDot key={`ef${t}${p}`} x={t} y={p} r={1} ifOverflow="visible"
              shape={(d: any) => {
                const x = d.cx + dx, y = d.cy;
                return <polygon points={`${x - 2.5},${y - 4} ${x + 3},${y} ${x - 2.5},${y + 4}`} fill="#1c46e8" />;
              }} />
          ))}
          {EXIT_FILLS.map(([t, p, dx]) => (
            <ReferenceDot key={`xf${t}${p}`} x={t} y={p} r={1} ifOverflow="visible"
              shape={(d: any) => {
                const x = d.cx + dx, y = d.cy;
                return <polygon points={`${x + 2.5},${y - 4} ${x - 3},${y} ${x + 2.5},${y + 4}`} fill="#ff2fe0" />;
              }} />
          ))}
          {NOTES.map(([t, p, dx, s]) => (
            <ReferenceDot key={`nt${t}${p}`} x={t} y={p} r={1} ifOverflow="visible"
              shape={(d: any) => (
                <text x={d.cx + dx} y={d.cy} dy="0.36em" textAnchor="middle" fill="#222" {...txt}>{s}</text>
              )} />
          ))}
          {Y_TICKS.map((p) => (
            <ReferenceDot key={`yt${p}`} x="09:12" y={p} r={1} ifOverflow="visible" shape={tickShape(p.toFixed(2))} />
          ))}
          {TAGS.map(([p, fill, col]) => (
            <ReferenceDot key={`tg${p}`} x="09:12" y={p} r={1} ifOverflow="visible" shape={tagShape(p.toFixed(2), fill, col)} />
          ))}
        </ComposedChart>
      </div>

      {/* volume panel */}
      <div style={{ position: "absolute", left: 0, top: 944 }}>
        <ComposedChart width={1752} height={110} data={rows} margin={{ top: 1, right: 0, bottom: 8, left: 2 }}
          barCategoryGap={0} barGap={0}>
          <XAxis dataKey="time" ticks={TIME_TICKS} interval={0} height={38} tickSize={5} tickMargin={3}
            axisLine={{ stroke: "#000" }} tickLine={{ stroke: "#000" }} tick={{ ...txt, fill: "#000" }} />
          <YAxis orientation="right" width={54} domain={[-1000, 17900]} allowDataOverflow ticks={[0]}
            tick={false} tickSize={5} axisLine={{ stroke: "#000" }} tickLine={{ stroke: "#000" }} />
          <ReferenceLine y={0} stroke="#a8a8a8" strokeWidth={1} />
          <Bar dataKey="v" fill="#0c0cd8" barSize={2} isAnimationActive={false} />
          <ReferenceDot x="09:12" y={0} r={1} ifOverflow="visible" shape={tickShape("0")} />
          <ReferenceDot x="09:12" y={1568} r={1} ifOverflow="visible" shape={tagShape("1568", "#1010d0", "#fff")} />
        </ComposedChart>
      </div>

      {/* frame and fixed captions */}
      <svg width={1752} height={1054} style={{ position: "absolute", left: 0, top: 0, pointerEvents: "none" }}>
        <text x={876} y={14} dy="0.36em" textAnchor="middle" fontSize={14} fontFamily={FONT} fill="#111"
          style={{ whiteSpace: "pre" }}>{"CL 08-17 (1 Min)  11/07/2017"}</text>
        <rect x={1.5} y={27.5} width={1749} height={1018} fill="none" stroke="#000" strokeWidth={1} />
        <line x1={1} x2={1751} y1={944.5} y2={944.5} stroke="#000" strokeWidth={1} />
        <polygon points="1668,38 1683,47.5 1668,57" fill="#fff" stroke="#000" strokeWidth={1.2} />
        <rect x={1685.5} y={38.5} width={3} height={18} fill="#fff" stroke="#000" strokeWidth={1} />
        <rect x={1739.5} y={29.5} width={11} height={12} fill="#fff" stroke="#000" strokeWidth={1} />
        <text x={1745} y={36} dy="0.36em" textAnchor="middle" fontSize={9} fontFamily={FONT}>F</text>
        <text x={3} y={963} dy="0.36em" fill="#222" {...txt}>VOL(CL 08-17 (1 Min))</text>
        <text x={3} y={1001} dy="0.36em" fill="#555" {...txt}>© 2017 NinjaTrader, LLC</text>
        <text x={1684} y={929} dy="0.36em" textAnchor="end" fill="#111" {...txt}>Time remaining = 00:00:31</text>
      </svg>
    </div>
  );
}
